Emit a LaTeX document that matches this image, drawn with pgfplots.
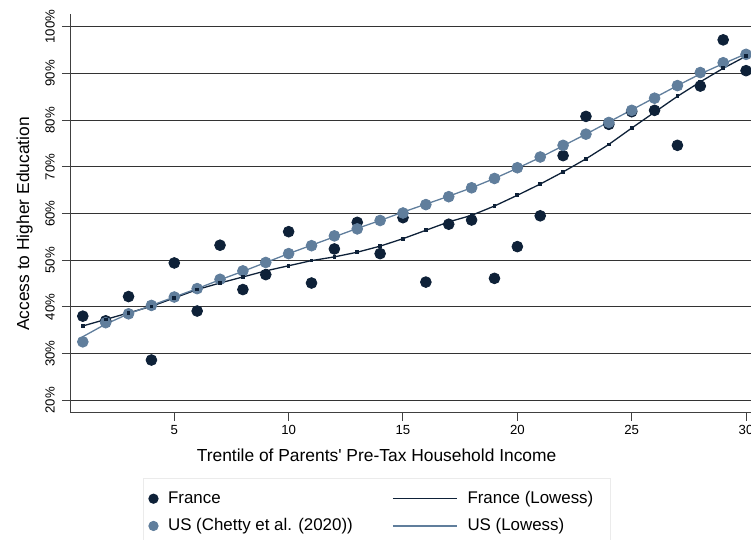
\documentclass[border=0pt]{standalone}
\usepackage{pgfplots}
\pgfplotsset{compat=1.18}
\usepackage{fontspec}
\setmainfont{Liberation Sans}
\definecolor{frdark}{RGB}{14,33,56}
\definecolor{usblue}{RGB}{96,126,156}
\pgfplotsset{
  dotleg/.style={legend image code/.code={\draw[##1,mark size=2.3pt] plot coordinates {(0pt,0pt)};}},
  lineleg/.style={legend image code/.code={\draw[##1,mark=none] plot coordinates {(0pt,0pt)(32pt,0pt)};}},
}
\begin{document}
\begin{tikzpicture}
\useasboundingbox (0,0) rectangle (375.5pt,270pt);
\begin{axis}[
  at={(35.15pt,63.85pt)}, anchor=south west,
  scale only axis,
  width=344.16pt, height=199.05pt,
  xmin=0.453, xmax=30.55, ymin=17.4, ymax=102.7,
  axis lines=left,
  axis line style={-, black!75, line width=0.5pt},
  tick align=outside,
  major tick length=4.25pt,
  tick style={black!75, line width=0.5pt},
  xtick={5,10,15,20,25,30},
  xticklabels={5,10,15,20,25,30},
  ytick={20,30,40,50,60,70,80,90,100},
  yticklabels={20\%,30\%,40\%,50\%,60\%,70\%,80\%,90\%,100\%},
  ymajorgrids,
  major grid style={black!80, line width=0.55pt},
  ticklabel style={font=\fontsize{6.6pt}{7.5pt}\selectfont},
  yticklabel style={rotate=90, anchor=south, inner sep=0pt, inner ysep=3.3pt},
  xticklabel style={inner sep=0pt, inner ysep=2pt},
  xlabel={Trentile of Parents\textquotesingle\ Pre-Tax Household Income},
  ylabel={Access to Higher Education},
  label style={font=\fontsize{8.7pt}{10pt}\selectfont},
  xlabel style={at={(axis description cs:0.445,-0.1248)}, anchor=base},
  ylabel style={at={(axis description cs:-0.060,0.473)}, anchor=base, rotate=0},
  legend columns=2,
  transpose legend,
  legend cell align=left,
  legend style={at={(axis description cs:0.1056,-0.164)}, anchor=north west,
    draw=black!8, line width=0.5pt, font=\fontsize{8.45pt}{10pt}\selectfont,
    /tikz/every odd column/.append style={column sep=3pt},
    /tikz/every even column/.append style={column sep=17.7pt},
    row sep=2pt, inner xsep=2.7pt, inner ysep=4.5pt},
]
\addplot[only marks, mark=*, mark size=2.7pt, color=frdark, dotleg]
  coordinates {(1,38.0)(2,37.0)(3,42.2)(4,28.6)(5,49.4)(6,39.1)(7,53.2)(8,43.7)(9,46.9)(10,56.1)
  (11,45.1)(12,52.4)(13,58.1)(14,51.4)(15,59.1)(16,45.3)(17,57.7)(18,58.6)(19,46.1)(20,52.9)
  (21,59.5)(22,72.4)(23,80.8)(24,79.1)(25,81.8)(26,82.1)(27,74.6)(28,87.3)(29,97.2)(30,90.6)};
\addlegendentry{France}
\addplot[only marks, mark=*, mark size=2.7pt, color=usblue, dotleg]
  coordinates {(1,32.5)(2,36.6)(3,38.5)(4,40.3)(5,42.1)(6,43.9)(7,45.9)(8,47.7)(9,49.5)(10,51.4)
  (11,53.1)(12,55.2)(13,56.7)(14,58.5)(15,60.1)(16,61.9)(17,63.6)(18,65.5)(19,67.5)(20,69.8)
  (21,72.1)(22,74.6)(23,77.0)(24,79.5)(25,82.1)(26,84.7)(27,87.4)(28,90.2)(29,92.3)(30,94.1)};
\addlegendentry{US (Chetty et al. (2020))}
\addplot[color=frdark, line width=0.65pt, mark=square*, mark size=0.6pt, lineleg]
  coordinates {(1,35.9)(2,37.3)(3,38.7)(4,40.1)(5,41.9)(6,43.7)(7,45.1)(8,46.4)(9,47.7)(10,48.8)
  (11,49.9)(12,50.7)(13,51.7)(14,53.0)(15,54.6)(16,56.4)(17,58.2)(18,59.6)(19,61.6)(20,63.9)
  (21,66.3)(22,68.9)(23,71.7)(24,74.8)(25,78.3)(26,81.7)(27,85.1)(28,88.2)(29,91.1)(30,93.7)};
\addlegendentry{France (Lowess)\hspace*{4pt}}
\addplot[color=usblue, line width=0.65pt, mark=none, lineleg]
  coordinates {(1,33.6)(2,36.3)(3,38.5)(4,40.3)(5,42.1)(6,43.9)(7,45.8)(8,47.6)(9,49.5)(10,51.4)
  (11,53.2)(12,55.0)(13,56.8)(14,58.5)(15,60.3)(16,62.0)(17,63.7)(18,65.5)(19,67.5)(20,69.7)
  (21,72.0)(22,74.5)(23,77.0)(24,79.6)(25,82.2)(26,84.8)(27,87.4)(28,89.9)(29,92.1)(30,94.2)};
\addlegendentry{US (Lowess)}
\end{axis}
\end{tikzpicture}
\end{document}
